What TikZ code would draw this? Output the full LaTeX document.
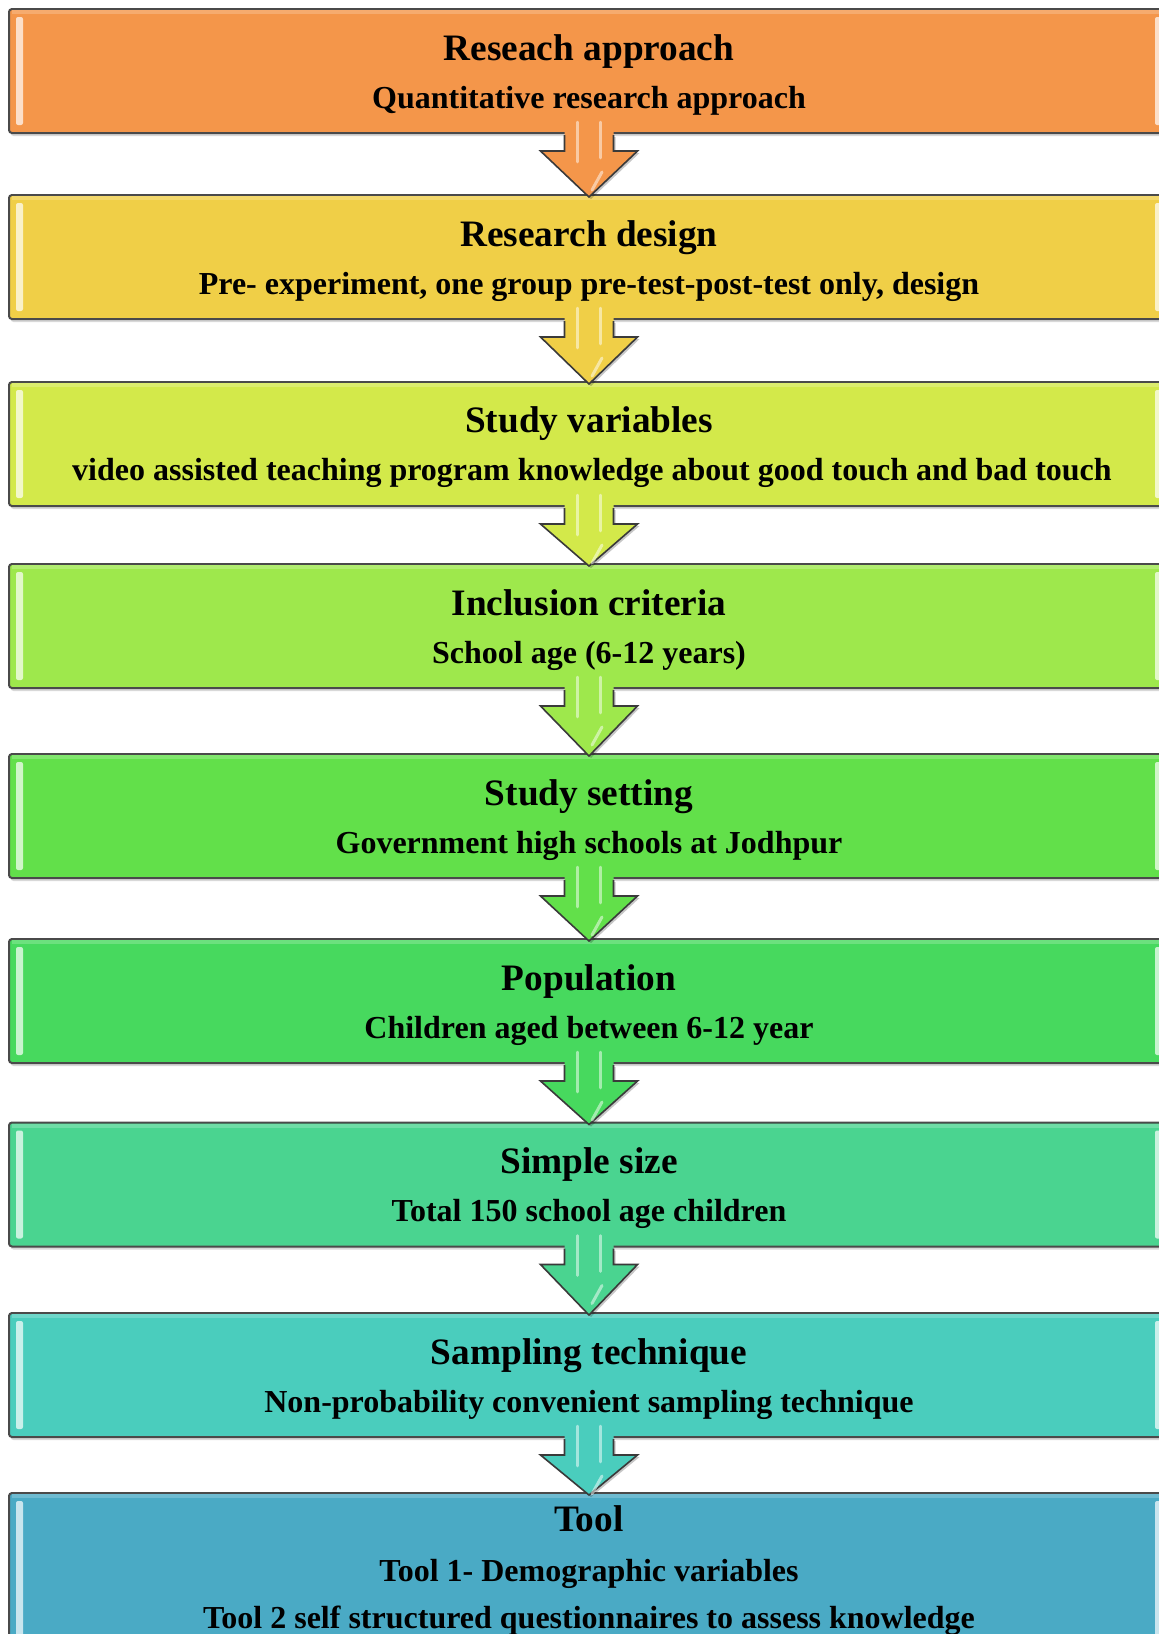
\documentclass[tikz,border=0pt]{standalone}
\usepackage{fontspec}
\setmainfont{Liberation Serif}
\usetikzlibrary{calc,shadows}
\definecolor{c1}{HTML}{F4964A}
\definecolor{c2}{HTML}{F0CF47}
\definecolor{c3}{HTML}{D3E94A}
\definecolor{c4}{HTML}{9EE84C}
\definecolor{c5}{HTML}{62E04A}
\definecolor{c6}{HTML}{47D95E}
\definecolor{c7}{HTML}{4AD490}
\definecolor{c8}{HTML}{4ACDBD}
\definecolor{c9}{HTML}{4AAAC5}
\definecolor{boxedge}{HTML}{4A4A4A}
\definecolor{arrowedge}{HTML}{3A3A3A}
\tikzset{
  flowbox/.style={rectangle, rounded corners=3pt, draw=boxedge, line width=2pt,
    minimum width=1160pt, minimum height=124pt, inner sep=0pt,
    drop shadow={shadow xshift=1.5pt, shadow yshift=-3pt, opacity=0.3}},
  ttl/.style={anchor=base, font=\bfseries\fontsize{37.3}{42}\selectfont, inner sep=0pt},
  sub/.style={anchor=base, font=\bfseries\fontsize{32}{36}\selectfont, inner sep=0pt},
  arrline/.style={draw=arrowedge, line width=1.6pt, line join=miter},
  gloss/.style={white, opacity=0.5, line width=2.5pt, line cap=round},
}
\newcommand\boxgloss[2]{%
  \fill[#2!30!white, rounded corners=2pt] ($(#1.north west)+(8,9)$) rectangle ($(#1.south west)+(15,-9)$);
  \fill[#2!30!white, rounded corners=2pt] ($(#1.north east)+(-15,9)$) rectangle ($(#1.south east)+(-8,-9)$);
  \fill[#2!80!white] ($(#1.north west)+(4,2)$) rectangle ($(#1.north east)+(-4,6)$);
}
\newcommand\flowarrow[3]{%
  \fill[black, opacity=0.22] ($(#1.south)+(-22.5,3)$) -- ($(#1.south)+(-22.5,19)$) -- ($(#1.south)+(-46.5,19)$) -- ($(#2.north)+(2,5)$) -- ($(#1.south)+(50.5,19)$) -- ($(#1.south)+(26.5,19)$) -- ($(#1.south)+(26.5,3)$) -- cycle;
  \fill[#3] ($(#1.south)+(-24.5,-14)$) -- ($(#1.south)+(-24.5,17)$) -- ($(#1.south)+(-48.5,17)$) -- ($(#2.north)+(0,3)$) -- ($(#1.south)+(48.5,17)$) -- ($(#1.south)+(24.5,17)$) -- ($(#1.south)+(24.5,-14)$) -- cycle;
  \draw[arrline] ($(#1.south)+(-24.5,1.2)$) -- ($(#1.south)+(-24.5,17)$) -- ($(#1.south)+(-48.5,17)$) -- ($(#2.north)+(0,3)$) -- ($(#1.south)+(48.5,17)$) -- ($(#1.south)+(24.5,17)$) -- ($(#1.south)+(24.5,1.2)$);
  \draw[gloss] ($(#1.south)+(-11.5,-12)$) -- ($(#1.south)+(-11.5,28)$);
  \draw[gloss] ($(#1.south)+(11.5,-12)$) -- ($(#1.south)+(11.5,24)$);
  \draw[gloss, line width=3pt] ($(#1.south)+(13,38)$) -- ($(#1.south)+(3,56)$);
}
\begin{document}
\begin{tikzpicture}[x=1pt,y=-1pt]
\useasboundingbox (0,0) rectangle (1159,1634);
\clip (0,0) rectangle (1159,1634);
\fill[white] (0,0) rectangle (1159,1634);

\node[flowbox, fill=c1] (b1) at (589,71) {};
\node[flowbox, fill=c2] (b2) at (589,257) {};
\node[flowbox, fill=c3] (b3) at (589,444) {};
\node[flowbox, fill=c4] (b4) at (589,626) {};
\node[flowbox, fill=c5] (b5) at (589,816) {};
\node[flowbox, fill=c6] (b6) at (589,1001) {};
\node[flowbox, fill=c7] (b7) at (589,1184.5) {};
\node[flowbox, fill=c8] (b8) at (589,1375) {};
\node[flowbox, fill=c9, minimum height=172pt] (b9) at (589,1579) {};

\boxgloss{b1}{c1}
\boxgloss{b2}{c2}
\boxgloss{b3}{c3}
\boxgloss{b4}{c4}
\boxgloss{b5}{c5}
\boxgloss{b6}{c6}
\boxgloss{b7}{c7}
\boxgloss{b8}{c8}
\boxgloss{b9}{c9}

\flowarrow{b1}{b2}{c1}
\flowarrow{b2}{b3}{c2}
\flowarrow{b3}{b4}{c3}
\flowarrow{b4}{b5}{c4}
\flowarrow{b5}{b6}{c5}
\flowarrow{b6}{b7}{c6}
\flowarrow{b7}{b8}{c7}
\flowarrow{b8}{b9}{c8}

\node[ttl] (t1) at (589,60) {Reseach approach};
\node[sub] (s1) at (589,108) {Quantitative research approach};
\node[ttl] (t2) at (589,246) {Research design};
\node[sub] (s2) at (589,294) {Pre- experiment, one group pre-test-post-test only, design};
\node[ttl] (t3) at (589,432) {Study variables};
\node[sub] (s3) at (592,480) {video assisted teaching program knowledge about good touch and bad touch};
\node[ttl] (t4) at (589,615) {Inclusion criteria};
\node[sub] (s4) at (589,663) {School age (6-12 years)};
\node[ttl] (t5) at (589,805) {Study setting};
\node[sub] (s5) at (589,853) {Government high schools at Jodhpur};
\node[ttl] (t6) at (589,990) {Population};
\node[sub] (s6) at (589,1038) {Children aged between 6-12 year};
\node[ttl] (t7) at (589,1173.5) {Simple size};
\node[sub] (s7) at (589,1221.5) {Total 150 school age children};
\node[ttl] (t8) at (589,1364) {Sampling technique};
\node[sub] (s8) at (589,1412) {Non-probability convenient sampling technique};
\node[ttl] (t9) at (589,1531) {Tool};
\node[sub] (s9) at (589,1581) {Tool 1- Demographic variables};
\node[sub] (u9) at (589,1628) {Tool 2 self structured questionnaires to assess knowledge};
\end{tikzpicture}
\end{document}
